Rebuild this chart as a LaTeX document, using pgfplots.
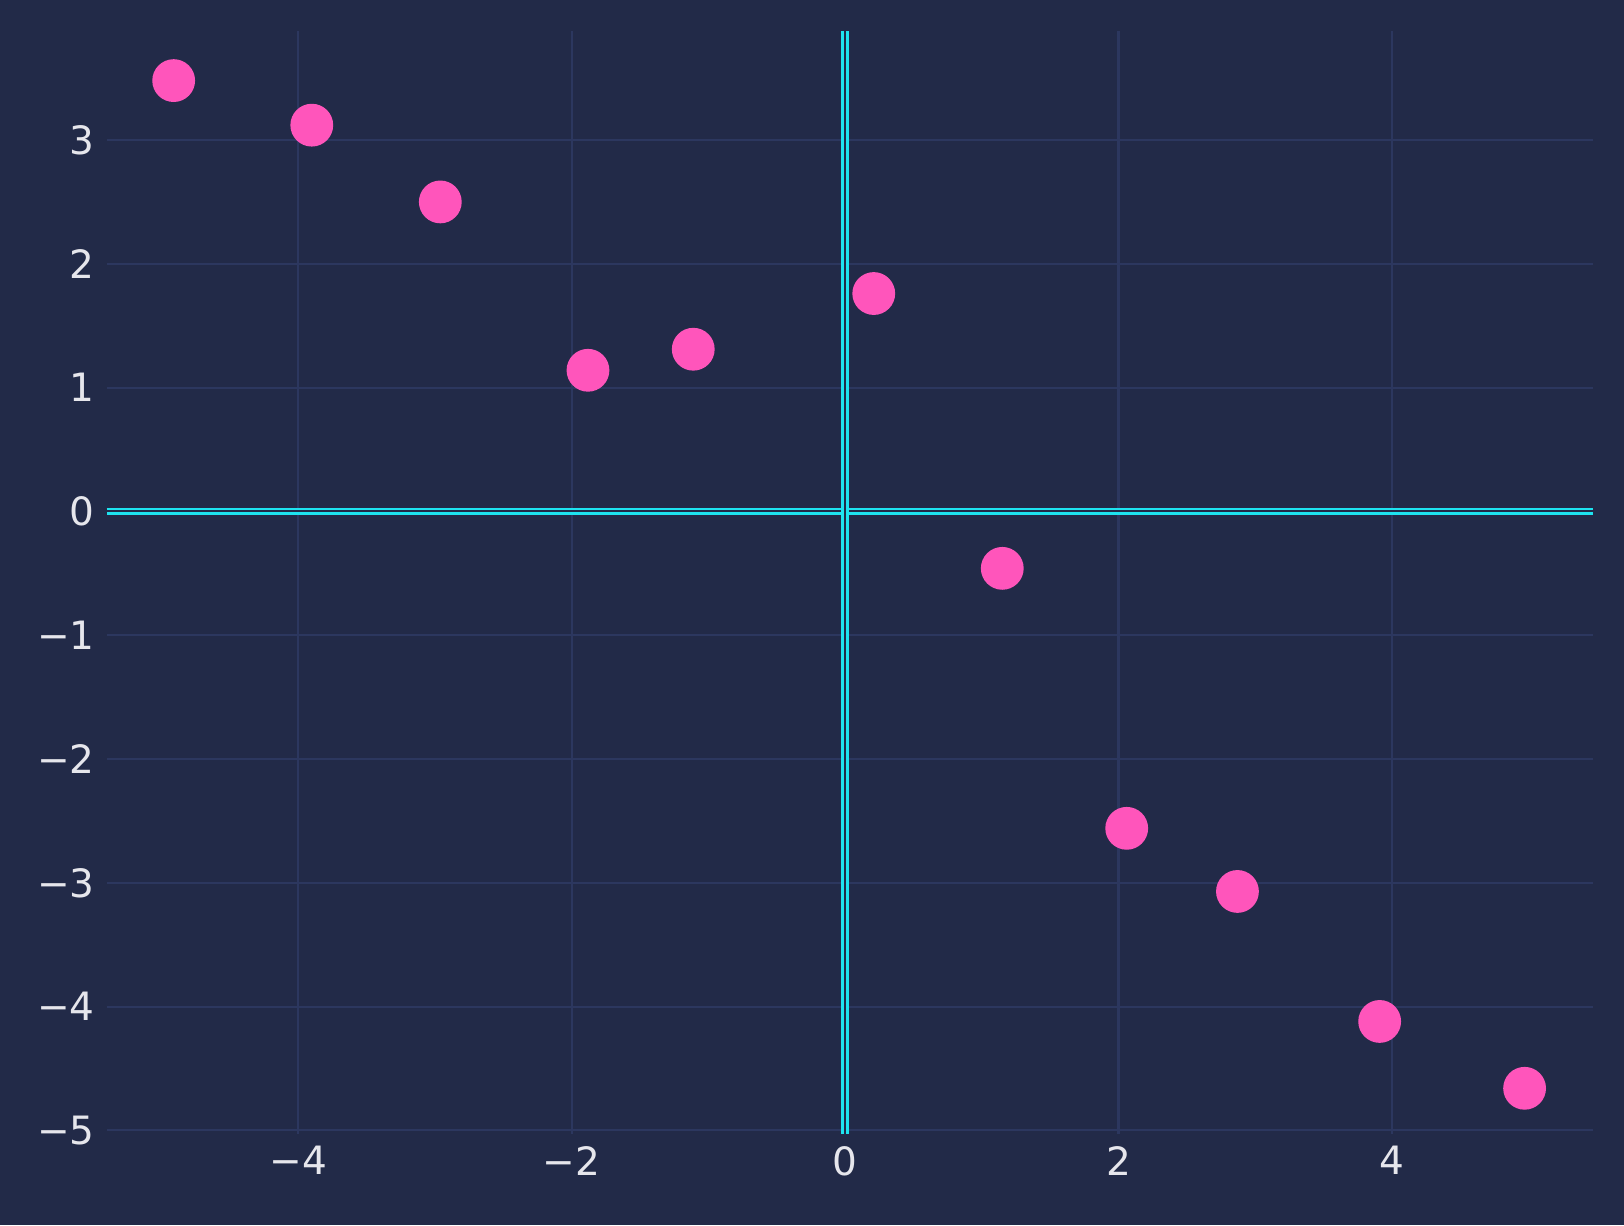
\documentclass[border=0pt]{standalone}
\usepackage{pgfplots}
\pgfplotsset{compat=1.18}
\usepackage{fontspec}
\setmainfont{DejaVu Sans}
\definecolor{bg}{HTML}{222A48}
\definecolor{gridc}{HTML}{2C375F}
\definecolor{pt}{HTML}{FF55BB}
\definecolor{cy}{HTML}{1EE3F0}
\definecolor{txt}{HTML}{E6E6EC}
\begin{document}
\begin{tikzpicture}
\fill[bg] (0,0) rectangle (470.4bp,354.9bp);
\begin{axis}[at={(30.9bp,26.4bp)},anchor=south west,scale only axis,
width=430.5bp,height=319.5bp,
xmin=-5.40,xmax=5.47,ymin=-5.03,ymax=3.88,
axis line style={draw=none},
grid=major,major grid style={gridc,line width=0.6bp},
xtick={-4,-2,0,2,4},ytick={-5,-4,-3,-2,-1,0,1,2,3},
tick style={draw=none},
tick label style={text=txt,font=\fontsize{11.3bp}{13bp}\selectfont},
/pgf/number format/assume math mode=true,
xticklabel={\ifdim\tick pt<0pt −\pgfmathparse{abs(\tick)}\pgfmathprintnumber{\pgfmathresult}\else\pgfmathprintnumber{\tick}\fi},
yticklabel={\ifdim\tick pt<0pt −\pgfmathparse{abs(\tick)}\pgfmathprintnumber{\pgfmathresult}\else\pgfmathprintnumber{\tick}\fi},
clip=false]
\draw[cy,line width=0.75bp,double=bg,double distance=0.6bp] (axis cs:-5.40,0) -- (axis cs:5.47,0);
\draw[cy,line width=0.75bp,double=bg,double distance=0.6bp] (axis cs:0,-5.03) -- (axis cs:0,3.88);
\addplot[only marks,mark=*,mark size=6bp,color=pt,mark options={fill=pt,draw=pt}] coordinates {
(-4.91,3.48)(-3.90,3.12)(-2.96,2.50)(-1.88,1.14)(-1.11,1.31)(0.21,1.76)
(1.15,-0.46)(2.06,-2.56)(2.87,-3.07)(3.91,-4.12)(4.97,-4.66)};
\end{axis}
\end{tikzpicture}
\end{document}
